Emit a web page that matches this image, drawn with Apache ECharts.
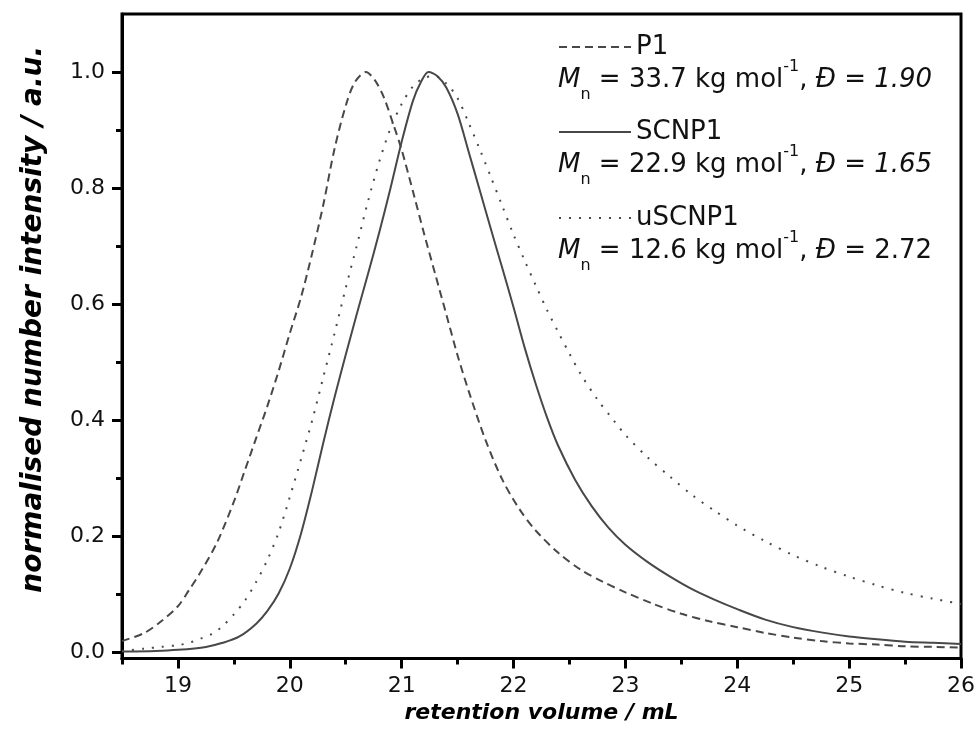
<!DOCTYPE html>
<html>
<head>
<meta charset="utf-8">
<script src="https://cdn.jsdelivr.net/npm/echarts@6/dist/echarts.min.js"></script>
<style>
  html, body { margin: 0; padding: 0; background: #fff; }
  #chart { width: 980px; height: 740px; }
</style>
</head>
<body>
<div id="chart"></div>
<script>
// retention volume (mL) / normalised intensity
const volP1 = [18.5, 18.7, 18.85, 19.0, 19.1, 19.2, 19.35, 19.5, 19.6, 19.7, 19.8, 19.9, 20.0, 20.1, 20.2, 20.3, 20.4, 20.5, 20.58, 20.68, 20.76, 20.84, 20.92, 21.0, 21.1, 21.2, 21.3, 21.4, 21.5, 21.6, 21.75, 21.9, 22.05, 22.2, 22.4, 22.6, 22.8, 23.0, 23.25, 23.5, 23.75, 24.0, 24.25, 24.5, 24.75, 25.0, 25.25, 25.5, 25.75, 26.0];
const intP1 = [0.020, 0.034, 0.054, 0.080, 0.108, 0.138, 0.190, 0.260, 0.315, 0.370, 0.425, 0.485, 0.550, 0.612, 0.688, 0.772, 0.868, 0.942, 0.982, 1.000, 0.986, 0.957, 0.913, 0.866, 0.795, 0.722, 0.652, 0.582, 0.512, 0.450, 0.366, 0.298, 0.248, 0.210, 0.172, 0.143, 0.122, 0.104, 0.084, 0.067, 0.054, 0.044, 0.034, 0.026, 0.020, 0.016, 0.014, 0.011, 0.010, 0.009];

const volSCNP1 = [18.5, 18.8, 19.0, 19.25, 19.4, 19.55, 19.7, 19.8, 19.9, 20.0, 20.1, 20.2, 20.3, 20.4, 20.5, 20.6, 20.7, 20.8, 20.9, 21.0, 21.1, 21.17, 21.24, 21.32, 21.4, 21.5, 21.6, 21.7, 21.8, 21.9, 22.0, 22.1, 22.2, 22.3, 22.4, 22.55, 22.7, 22.85, 23.0, 23.2, 23.4, 23.6, 23.8, 24.0, 24.25, 24.5, 24.75, 25.0, 25.25, 25.5, 25.75, 26.0];
const intSCNP1 = [0.002, 0.003, 0.005, 0.010, 0.017, 0.028, 0.050, 0.072, 0.102, 0.145, 0.205, 0.280, 0.362, 0.440, 0.513, 0.584, 0.653, 0.724, 0.800, 0.880, 0.950, 0.982, 1.000, 0.993, 0.973, 0.928, 0.862, 0.795, 0.728, 0.662, 0.595, 0.525, 0.462, 0.405, 0.356, 0.298, 0.252, 0.215, 0.186, 0.156, 0.131, 0.109, 0.091, 0.075, 0.057, 0.044, 0.035, 0.028, 0.023, 0.019, 0.017, 0.015];

const volUSCNP1 = [18.5, 18.7, 18.85, 19.0, 19.1, 19.2, 19.3, 19.4, 19.5, 19.6, 19.7, 19.8, 19.9, 20.0, 20.1, 20.2, 20.3, 20.4, 20.5, 20.6, 20.7, 20.8, 20.9, 21.0, 21.1, 21.2, 21.3, 21.4, 21.5, 21.6, 21.7, 21.8, 21.9, 22.0, 22.1, 22.2, 22.3, 22.4, 22.5, 22.6, 22.75, 22.9, 23.0, 23.2, 23.4, 23.6, 23.8, 24.0, 24.25, 24.5, 24.75, 25.0, 25.25, 25.5, 25.75, 26.0];
const intUSCNP1 = [0.003, 0.007, 0.010, 0.013, 0.017, 0.024, 0.032, 0.046, 0.066, 0.090, 0.122, 0.160, 0.207, 0.268, 0.333, 0.400, 0.475, 0.550, 0.628, 0.702, 0.778, 0.846, 0.903, 0.945, 0.975, 0.990, 0.993, 0.980, 0.955, 0.912, 0.866, 0.818, 0.769, 0.720, 0.675, 0.632, 0.590, 0.552, 0.515, 0.480, 0.436, 0.399, 0.375, 0.336, 0.303, 0.271, 0.244, 0.219, 0.192, 0.168, 0.148, 0.131, 0.116, 0.103, 0.093, 0.084];

const xMajor = [19, 20, 21, 22, 23, 24, 25, 26];
const xMinor = [18.5, 19.5, 20.5, 21.5, 22.5, 23.5, 24.5, 25.5];
const yMajor = [0, 0.2, 0.4, 0.6, 0.8, 1.0];
const yMinor = [0.1, 0.3, 0.5, 0.7, 0.9];

const FONT = 'DejaVu Sans';
const INK = '#000';
const CURVE = '#484848';

const pairs = (xs, ys) => xs.map((x, i) => [x, ys[i]]);

const chart = echarts.init(document.getElementById('chart'));

const baseX = {
    type: 'value', min: 18.5, max: 26, gridIndex: 0, position: 'bottom',
    splitLine: { show: false }
};
const baseY = {
    type: 'value', min: -0.01, max: 1.1, gridIndex: 0, position: 'left',
    splitLine: { show: false }
};

function legendAt(name, top) {
    return {
        data: [name], left: 558, top: top, padding: 0,
        itemWidth: 72, itemHeight: 14, selectedMode: false,
        itemStyle: { opacity: 0 },
        textStyle: { fontFamily: FONT, fontSize: 26, color: '#111', lineHeight: 30 }
    };
}

const rich = {
    i: { fontFamily: FONT, fontSize: 26, fontStyle: 'italic', color: '#111' },
    sub: { fontFamily: FONT, fontSize: 16, color: '#111', verticalAlign: 'bottom', padding: [0, 0, -6, 0] },
    sup: { fontFamily: FONT, fontSize: 16, color: '#111', verticalAlign: 'top', padding: [-4, 0, 0, 0] }
};

function mnText(mn, dispersity, italicD, y) {
    const d = italicD ? '{i|' + dispersity + '}' : dispersity;
    return {
        type: 'text', left: 558, top: y, z: 10,
        style: {
            text: '{i|M}{sub|n} = ' + mn + ' kg mol{sup|-1}, {i|Đ} = ' + d,
            rich: rich,
            fontFamily: FONT, fontSize: 26, fill: '#111', lineHeight: 34
        }
    };
}

const option = {
    animation: false,
    backgroundColor: '#fff',
    grid: {
        left: 122, right: 19, top: 14, bottom: 81.5,
        show: true, borderColor: INK, borderWidth: 3, backgroundColor: 'transparent'
    },
    xAxis: [
        Object.assign({}, baseX, {
            name: 'retention volume / mL', nameLocation: 'middle', nameGap: 40,
            nameTextStyle: { fontFamily: FONT, fontSize: 22, fontWeight: 'bold', fontStyle: 'italic', color: INK },
            axisLine: { show: true, onZero: false, lineStyle: { color: INK, width: 3 } },
            axisTick: { show: true, length: 10, customValues: xMajor, lineStyle: { color: INK, width: 3 } },
            axisLabel: { customValues: xMajor, margin: 17, fontFamily: FONT, fontSize: 22, color: '#111' }
        }),
        Object.assign({}, baseX, {
            axisLine: { show: false, onZero: false },
            axisTick: { show: true, length: 6, customValues: xMinor, lineStyle: { color: INK, width: 3 } },
            axisLabel: { show: false }
        })
    ],
    yAxis: [
        Object.assign({}, baseY, {
            name: 'normalised number intensity / a.u.', nameLocation: 'middle', nameGap: 74,
            nameTextStyle: { fontFamily: FONT, fontSize: 28, fontWeight: 'bold', fontStyle: 'italic', color: INK, padding: [0, 0, 0, 34] },
            axisLine: { show: true, onZero: false, lineStyle: { color: INK, width: 3 } },
            axisTick: { show: true, length: 10, customValues: yMajor, lineStyle: { color: INK, width: 3 } },
            axisLabel: { customValues: yMajor, margin: 17, fontFamily: FONT, fontSize: 22, color: '#111',
                         formatter: v => v.toFixed(1) }
        }),
        Object.assign({}, baseY, {
            axisLine: { show: false, onZero: false },
            axisTick: { show: true, length: 6, customValues: yMinor, lineStyle: { color: INK, width: 3 } },
            axisLabel: { show: false }
        })
    ],
    legend: [
        legendAt('P1', 32),
        legendAt('SCNP1', 117),
        legendAt('uSCNP1', 203)
    ],
    graphic: [
        mnText('33.7', '1.90', true, 59),
        mnText('22.9', '1.65', true, 144),
        mnText('12.6', '2.72', false, 230)
    ],
    series: [
        {
            name: 'P1', type: 'line', xAxisIndex: 0, yAxisIndex: 0,
            data: pairs(volP1, intP1), symbol: 'none', smooth: 0.3,
            lineStyle: { color: CURVE, width: 2, type: [8, 5] }, itemStyle: { color: CURVE }
        },
        {
            name: 'SCNP1', type: 'line', xAxisIndex: 0, yAxisIndex: 0,
            data: pairs(volSCNP1, intSCNP1), symbol: 'none', smooth: 0.3,
            lineStyle: { color: CURVE, width: 2 }, itemStyle: { color: CURVE }
        },
        {
            name: 'uSCNP1', type: 'line', xAxisIndex: 0, yAxisIndex: 0,
            data: pairs(volUSCNP1, intUSCNP1), symbol: 'none', smooth: 0.3,
            lineStyle: { color: CURVE, width: 2, type: [2, 8] }, itemStyle: { color: CURVE }
        }
    ]
};

chart.setOption(option);
</script>
</body>
</html>
